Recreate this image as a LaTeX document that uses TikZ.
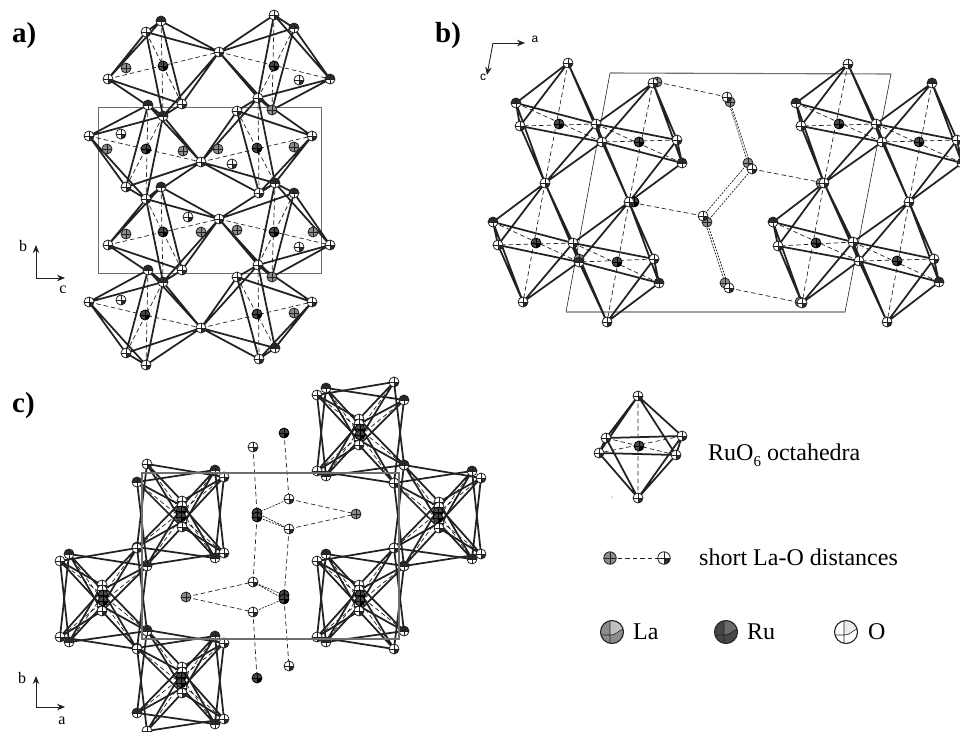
\documentclass[tikz,border=0pt]{standalone}
\usepackage{fontspec}
\setmainfont{Liberation Serif}
\newfontfamily\sansf{Liberation Sans}
\usetikzlibrary{arrows.meta}
\definecolor{ink}{HTML}{222222}
\definecolor{atomdk}{HTML}{2A2A2A}
\definecolor{lagray}{HTML}{8C8C8C}
\definecolor{rugray}{HTML}{474747}
\definecolor{cellc}{HTML}{6E6E6E}
\tikzset{
  bond/.style={draw=ink,line width=1.75pt,line join=round},
  dashbond/.style={draw=ink,line width=0.7pt,dash pattern=on 4.5pt off 3pt},
  dblbond/.style={draw=ink,line width=0.7pt,dash pattern=on 2pt off 1.2pt},
  cellline/.style={draw=cellc,line width=1.1pt},
  axisarrow/.style={draw=ink,line width=0.9pt,-{Stealth[length=8pt,width=6.5pt]}},
  oxy/.pic={\fill[white](0,0) circle (5);
    \fill[atomdk](0,0)--(5,0) arc (0:90:5)--cycle;
    \draw[ink,line width=0.6pt](-5,0)--(5,0)(0,-5)--(0,5);
    \draw[ink,line width=0.8pt](0,0) circle (5);},
  oxd/.pic={\fill[white](0,0) circle (5);
    \fill[atomdk](0,0)--(-5,0) arc (180:360:5)--cycle;
    \draw[ink,line width=0.6pt](-5,0)--(5,0)(0,-5)--(0,5);
    \draw[ink,line width=0.8pt](0,0) circle (5);},
  lag/.pic={\fill[lagray](0,0) circle (5);
    \draw[ink,line width=0.5pt](-5,0)--(5,0)(0,-5)--(0,5);
    \draw[ink,line width=0.8pt](0,0) circle (5);},
  rug/.pic={\fill[rugray](0,0) circle (5);
    \fill[black](0,0)--(5,0) arc (0:90:5)--cycle;
    \draw[black,line width=0.5pt](-5,0)--(5,0)(0,-5)--(0,5);
    \draw[black,line width=0.8pt](0,0) circle (5);},
}
\newcommand\octa[6]{%
  \draw[dashbond] (#1)--(#2) (#3)--(#5) (#4)--(#6);
  \draw[bond] (#3)--(#4)--(#5)--(#6)--cycle
    (#1)--(#3) (#1)--(#4) (#1)--(#5) (#1)--(#6)
    (#2)--(#3) (#2)--(#4) (#2)--(#5) (#2)--(#6);}
\newcommand\pts[1]{\foreach \n/\x/\y in {#1}{\coordinate (\n) at (\x,\y);}}
\newcommand\atoms[2]{\foreach \n in {#2}{\pic at (\n) {#1};}}
% one pair of stacked octahedra seen along c
\newcommand\cluster[4]{%
  \begin{scope}[shift={(#2,#3)},xscale=#4]
  \coordinate (#1p1) at (-34,-50); \coordinate (#1p2) at (-44,-32);
  \coordinate (#1p3) at (34,-44);  \coordinate (#1p4) at (43,-37);
  \coordinate (#1p5) at (-44,33);  \coordinate (#1p6) at (-34,51);
  \coordinate (#1p7) at (34,44);   \coordinate (#1p8) at (43,39);
  \coordinate (#1t1) at (1,-13);   \coordinate (#1t2) at (1,-8);
  \coordinate (#1u1) at (1,8);     \coordinate (#1u2) at (1,13);
  \coordinate (#1r1) at (0,-3);    \coordinate (#1r2) at (0,3);
  \octa{#1t1}{#1u1}{#1p1}{#1p4}{#1p7}{#1p5}
  \octa{#1t2}{#1u2}{#1p2}{#1p3}{#1p8}{#1p6}
  \end{scope}
  \atoms{oxy}{#1p1,#1p4,#1p6,#1p8}
  \atoms{oxd}{#1p2,#1p3,#1p5,#1p7}
  \atoms{oxy}{#1t1,#1t2,#1u1,#1u2}
  \atoms{rug}{#1r1,#1r2}}
\newcommand\legball[3]{%
  \begin{scope}[shift={(#1)}]
  \fill[#2](0,0) circle (11.5);
  \fill[#3](-2,3) to[out=-5,in=200] (11.1,-3) arc (-15:-99:11.5) -- cycle;
  \draw[ink,line width=0.6pt](-2,-11.3)--(-2,3)--(-11.1,3) (-2,3) to[out=-5,in=200] (11.1,-3) (-2,3)--(-2,11.3);
  \draw[ink,line width=1.1pt](0,0) circle (11.5);
  \end{scope}}
\begin{document}
\begin{tikzpicture}[x=1pt,y=-1pt]
\useasboundingbox (0,0) rectangle (960,731);
% ---------- panel a
\draw[cellline] (98.5,107.7) rectangle (321.5,273.3);
\pts{a1/146/32,a2/161/21,a3/108/79,a4/182/104,a5/219/52,a6/148/105,a7/163/116,
 a8/274/15,a9/294/28,a10/330/79,a11/258/98,a12/272/110,
 a13/89/136,a14/201/162,a15/312/136,a16/126/187,a17/146/199,a18/237/111,a19/275/183,a20/259/193,
 a21/108/245,a22/219/219,a23/330/245,a24/161/187,a25/182/270,a26/163/282,a27/294/193,a28/258/265,a29/272/277,
 a30/89/302,a31/201/328,a32/312/302,a33/148/270,a34/126/353,a35/146/365,a36/237/277,a37/275/348,a38/259/359,
 ar1/163/66,ar2/274/66,ar3/146/149,ar4/257/148,ar5/163/232,ar6/274/232,ar7/145/315,ar8/257/314,
 al1/126/68,al2/107/149,al3/183/151,al4/218/149,al5/294/147,al6/126/234,al7/201/232,al8/237/230,al9/313/232,al10/294/313,
 ao1/299/80,ao2/121/134,ao3/232/164,ao4/188/217,ao5/299/247,ao6/121/300}
\octa{a3}{a5}{a1}{a2}{a4}{a7}
\octa{a5}{a10}{a8}{a9}{a12}{a11}
\octa{a13}{a14}{a6}{a7}{a17}{a16}
\octa{a14}{a15}{a18}{a11}{a19}{a20}
\octa{a21}{a22}{a17}{a24}{a25}{a26}
\octa{a22}{a23}{a19}{a27}{a29}{a28}
\octa{a30}{a31}{a33}{a26}{a35}{a34}
\octa{a31}{a32}{a36}{a28}{a37}{a38}
\atoms{oxy}{a1,a3,a5,a8,a11,a13,a14,a15,a16,a17,a18,a20,a21,a22,a25,a28,a30,a31,a32,a34,a35,a36,a38,a23,a4,ao1,ao2,ao3,ao4,ao5,ao6}
\atoms{oxd}{a2,a9,a10,a6,a7,a19,a24,a26,a27,a33,a37}
\atoms{lag}{a12,a29,al1,al2,al3,al4,al5,al6,al7,al8,al9,al10}
\atoms{rug}{ar1,ar2,ar3,ar4,ar5,ar6,ar7,ar8}
\coordinate (ao) at (36,278); \coordinate (ab) at (36,245); \coordinate (ac) at (65,278);
\draw[axisarrow] (ao)--(ab); \draw[axisarrow] (ao)--(ac);
\node[font=\fontsize{16}{18}\selectfont] (ablab) at (23,246) {b};
\node[font=\fontsize{16}{18}\selectfont] (aclab) at (63,290) {c};
\node[anchor=base west,font=\bfseries\fontsize{29}{32}\selectfont,inner sep=0pt] (plabA) at (12,42) {a)};
% ---------- panel b
\draw[draw=ink,line width=0.6pt] (610,73)--(566,312) (891,74)--(845,312);
\draw[cellline] (610,73)--(891,74) (566,312)--(845,312);
\pts{b1/568/63,b2/516/103,b3/520/126,b4/596/124,b5/602/142,b6/545/183,b7/653/83,b8/677/140,b9/682/163,b10/629/202,
 b11/493/222,b12/498/245,b13/573/243,b14/579/262,b15/523/302,b16/654/259,b17/659/283,b18/607/322,
 b21/848/64,b22/796/103,b23/801/126,b24/876/124,b25/882/142,b26/824/183,b27/932/83,b28/957/140,b29/962/163,b30/909/202,
 b31/773/222,b32/778/246,b33/853/242,b34/859/261,b35/802/303,b36/934/259,b37/939/282,b38/887/322,
 c1/559/124,c2/639/142,c3/536/243,c4/617/262,c5/839/124,c6/919/142,c7/816/243,c8/897/261,
 b40/727/97,b41/730/102,b42/748/163,b43/752/169,b44/703/216,b45/707/222,b46/725/283,b47/729/288,
 b48/657/82,b49/821/183,b50/634/202,b51/800/302,b52/579/259}
\octa{b1}{b6}{b2}{b4}{b5}{b3}
\octa{b7}{b10}{b4}{b8}{b9}{b5}
\octa{b6}{b15}{b11}{b13}{b14}{b12}
\octa{b10}{b18}{b13}{b16}{b17}{b14}
\octa{b21}{b26}{b22}{b24}{b25}{b23}
\octa{b27}{b30}{b24}{b28}{b29}{b25}
\octa{b26}{b35}{b31}{b33}{b34}{b32}
\octa{b30}{b38}{b33}{b36}{b37}{b34}
\draw[dashbond] (b48)--(b40) (b43)--(b26) (b44)--(b10) (b47)--(b35);
\draw[dblbond] (b40)--(b42) (b41)--(b43) (b42)--(b44) (b43)--(b45) (b44)--(b46) (b45)--(b47);
\atoms{lag}{b48,b49,b51,b52,b41,b42,b45,b46}
\atoms{rug}{b50}
\atoms{oxy}{b1,b4,b5,b6,b7,b8,b10,b13,b15,b16,b18,b21,b24,b25,b26,b28,b30,b33,b34,b35,b36,b38,b40,b43,b44,b47,b12,b3,b23,b32}
\atoms{oxd}{b2,b9,b11,b14,b17,b22,b27,b29,b31,b37}
\atoms{rug}{c1,c2,c3,c4,c5,c6,c7,c8}
\coordinate (bo) at (493,43); \coordinate (ba) at (525,43); \coordinate (bc) at (487,75);
\draw[axisarrow] (bo)--(ba); \draw[axisarrow] (bo)--(bc);
\node[font=\sansf\fontsize{12}{14}\selectfont] (balab) at (535,39) {a};
\node[font=\sansf\fontsize{12}{14}\selectfont] (bclab) at (483,77) {c};
\node[anchor=base west,font=\bfseries\fontsize{29}{32}\selectfont,inner sep=0pt] (plabB) at (435,42) {b)};
% ---------- panel c
\draw[cellline] (142,473) rectangle (399,639);
\pts{d1/253/447,d2/284/433,d3/289/499,d4/257/513,d5/257/517,d6/289/529,d7/356/514,d8/253/582,
 d9/186/597,d10/284/595,d11/284/599,d12/253/612,d13/257/678,d14/289/666}
\draw[dashbond] (d1)--(d4) (d2)--(d3) (d3)--(d7) (d6)--(d7) (d5)--(d8) (d6)--(d11)
  (d9)--(d8) (d9)--(d12) (d12)--(d13) (d11)--(d14);
\draw[dblbond] (d3)--(d4) (d4)--(d6) (d5)--(d6) (d8)--(d10) (d8)--(d11) (d12)--(d11);
\atoms{rug}{d2,d4,d5,d10,d11,d13}
\atoms{lag}{d7,d9}
\atoms{oxy}{d1,d3,d6,d8,d12,d14}
\cluster{k1}{181}{514}{1}
\cluster{k2}{181}{680}{1}
\cluster{k3}{438}{515}{1}
\cluster{k4}{103}{598}{-1}
\cluster{k5}{360}{432}{-1}
\cluster{k6}{360}{598}{-1}
\draw[cellline] (142,473) rectangle (399,639);
\coordinate (co) at (36,707); \coordinate (cb) at (36,676); \coordinate (ca) at (65,707);
\draw[axisarrow] (co)--(cb); \draw[axisarrow] (co)--(ca);
\node[font=\fontsize{16}{18}\selectfont] (cblab) at (22,678) {b};
\node[font=\fontsize{16}{18}\selectfont] (calab) at (62,721) {a};
\node[anchor=base west,font=\bfseries\fontsize{29}{32}\selectfont,inner sep=0pt] (plabC) at (12,412) {c)};
% ---------- legend
\pts{e1/638/396,e2/638/498,e3/606/438,e4/682/436,e5/676/455,e6/599/453,er/639/446,
 f1/610/558,f2/664/558,g1/612/632,g2/726/632,g3/846/632}
\octa{e1}{e2}{e3}{e4}{e5}{e6}
\atoms{oxy}{e1,e3,e4,e5,e6,e2}
\pic at (er) {rug};
\fill[ink] (612,497) circle (0.5);
\draw[dashbond] (f1)--(f2);
\pic[scale=1.25] at (f1) {lag};
\pic[scale=1.25] at (f2) {oxy};
\legball{g1}{lagray}{lagray!55}
\legball{g2}{rugray}{rugray!80}
\legball{g3}{white}{gray!15}
\node[anchor=base west,inner sep=0pt,font=\fontsize{24}{28}\selectfont] (t1) at (708,460) {RuO\raisebox{-0.25em}{\fontsize{15}{15}\selectfont 6} octahedra};
\node[anchor=base west,inner sep=0pt,font=\fontsize{24}{28}\selectfont] (t2) at (699,565) {short La-O distances};
\node[anchor=base west,inner sep=0pt,font=\fontsize{24}{28}\selectfont] (t3) at (633,639) {La};
\node[anchor=base west,inner sep=0pt,font=\fontsize{24}{28}\selectfont] (t4) at (747,639) {Ru};
\node[anchor=base west,inner sep=0pt,font=\fontsize{24}{28}\selectfont] (t5) at (868,639) {O};
\end{tikzpicture}
\end{document}
